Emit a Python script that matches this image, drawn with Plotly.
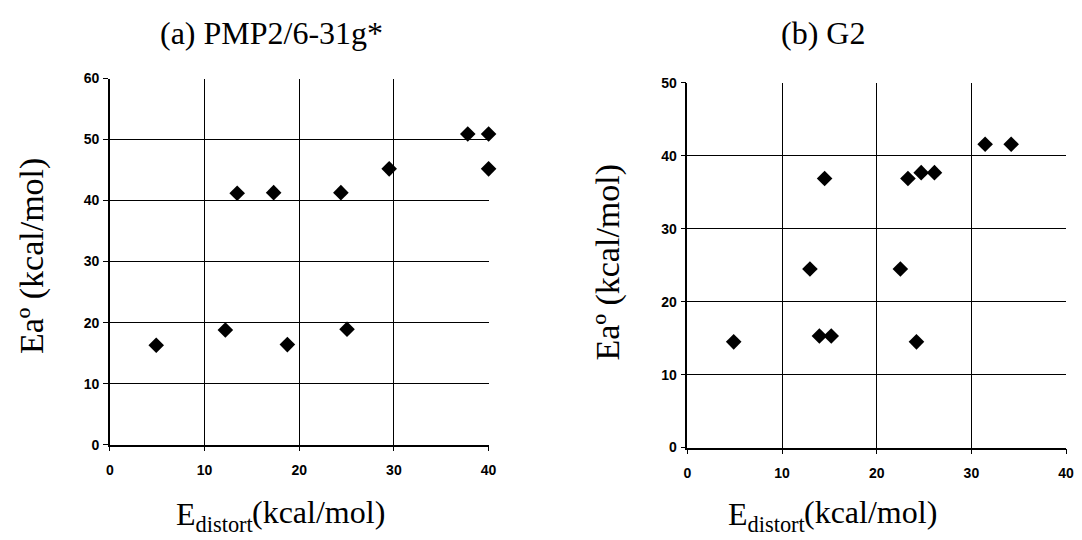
import plotly.graph_objects as go

# (a) PMP2/6-31g*
a_x = [4.9, 12.2, 13.45, 17.3, 18.75, 24.4, 25.05, 29.5, 37.8, 40.0, 40.0]
a_y = [16.3, 18.8, 41.2, 41.3, 16.4, 41.3, 18.9, 45.2, 50.9, 50.9, 45.2]
# (b) G2
b_x = [4.9, 12.95, 13.95, 15.2, 14.5, 22.5, 23.3, 24.2, 24.7, 26.1, 31.45, 34.2]
b_y = [14.5, 24.5, 15.3, 15.3, 36.9, 24.5, 36.9, 14.5, 37.7, 37.7, 41.6, 41.6]

titles = ["(a) PMP2/6-31g*", "(b) G2"]
x_ticks = [0, 10, 20, 30, 40]
a_y_ticks = [0, 10, 20, 30, 40, 50, 60]
b_y_ticks = [0, 10, 20, 30, 40, 50]

fig = go.Figure()
mk = dict(symbol="diamond", color="black", size=12)
fig.add_trace(go.Scatter(x=a_x, y=a_y, mode="markers", marker=mk, xaxis="x", yaxis="y",
                         cliponaxis=False, showlegend=False))
fig.add_trace(go.Scatter(x=b_x, y=b_y, mode="markers", marker=mk, xaxis="x2", yaxis="y2",
                         cliponaxis=False, showlegend=False))

tickfont = dict(family="Liberation Sans", size=14, color="black")
common = dict(showline=True, linecolor="black", linewidth=1.5, mirror=False,
              showgrid=True, gridcolor="black", gridwidth=1, zeroline=False,
              ticks="outside", ticklen=5, tickcolor="black", tickwidth=1,
              tickfont=tickfont, fixedrange=True)


def bold(vals):
    return ["<b>%d</b>" % v for v in vals]


fig.update_layout(
    width=1082, height=540,
    margin=dict(l=0, r=0, t=0, b=0),
    paper_bgcolor="white", plot_bgcolor="white",
    xaxis=dict(domain=[0.0989, 0.4529], range=[0, 40], tickvals=x_ticks, ticktext=bold(x_ticks),
               anchor="y", ticklabelstandoff=7, **common),
    yaxis=dict(domain=[0.1667, 0.8654], range=[0, 60], tickvals=a_y_ticks, ticktext=bold(a_y_ticks),
               anchor="x", ticklabelstandoff=1, **common),
    xaxis2=dict(domain=[0.6386, 0.9926], range=[0, 40], tickvals=x_ticks, ticktext=bold(x_ticks),
                anchor="y2", ticklabelstandoff=7, **common),
    yaxis2=dict(domain=[0.1611, 0.8569], range=[0, 50], tickvals=b_y_ticks, ticktext=bold(b_y_ticks),
                anchor="x2", ticklabelstandoff=1, **common),
)


def add_text(text, x, y, size=32, xanchor="center", angle=0):
    fig.add_annotation(text=text, x=x / 1082, y=1 - y / 540,
                       xref="paper", yref="paper", showarrow=False, textangle=angle,
                       xanchor=xanchor, yanchor="middle",
                       font=dict(family="Liberation Serif", size=size, color="black"))


add_text(titles[0], 270, 26)
add_text(titles[1], 828, 26)
for xs in [252, 810]:
    add_text("E<sub>distort</sub>", xs + 3, 524, xanchor="right")
    add_text("(kcal/mol)", xs - 3, 519, xanchor="left")
for xc, yc in [(29, 255), (611, 262)]:
    add_text("Eaº (kcal/mol)", xc, yc, size=34, angle=-90)

fig.write_html("out.html")
